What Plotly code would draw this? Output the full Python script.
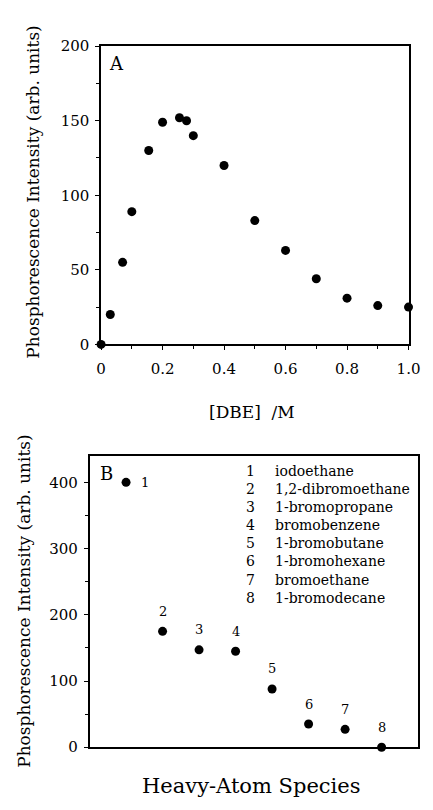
import plotly.graph_objects as go

# Panel A data
dbe_conc = [0.0, 0.03, 0.07, 0.1, 0.155, 0.2, 0.255, 0.278, 0.3, 0.4, 0.5, 0.6, 0.7, 0.8, 0.9, 1.0]
intensity_a = [0, 20, 55, 89, 130, 149, 152, 150, 140, 120, 83, 63, 44, 31, 26, 25]
xticks_a = [0, 0.2, 0.4, 0.6, 0.8, 1.0]
xticklabels_a = ["0", "0.2", "0.4", "0.6", "0.8", "1.0"]
yticks_a = [0, 50, 100, 150, 200]

# Panel B data
species_idx = [1, 2, 3, 4, 5, 6, 7, 8]
species_names = ["iodoethane", "1,2-dibromoethane", "1-bromopropane", "bromobenzene",
                 "1-bromobutane", "1-bromohexane", "bromoethane", "1-bromodecane"]
intensity_b = [400, 175, 147, 145, 88, 35, 27, 0]
yticks_b = [0, 100, 200, 300, 400]

W, H = 433, 810
FONT = "DejaVu Serif"


def px(x):
    return x / W


def py(y):
    return 1 - y / H


fig = go.Figure()

fig.add_trace(go.Scatter(
    x=dbe_conc, y=intensity_a, mode="markers",
    marker=dict(color="black", size=9), cliponaxis=False,
    xaxis="x", yaxis="y", showlegend=False))

fig.add_trace(go.Scatter(
    x=species_idx, y=intensity_b, mode="markers",
    marker=dict(color="black", size=9), cliponaxis=False,
    xaxis="x2", yaxis="y2", showlegend=False))

axis_common = dict(showgrid=False, zeroline=False, showline=True, linecolor="black",
                   linewidth=1.5, mirror=True, ticks="outside", ticklen=4,
                   tickcolor="black", tickfont=dict(family=FONT, size=15, color="black"))

fig.update_layout(
    width=W, height=H, margin=dict(l=0, r=0, t=0, b=0),
    paper_bgcolor="white", plot_bgcolor="white",
    xaxis=dict(domain=[px(100), px(420)], range=[0, 1], anchor="y",
               tickvals=xticks_a, ticktext=xticklabels_a, ticklabelstandoff=6,
               minor=dict(dtick=0.1, tick0=0, ticks="outside", ticklen=3, tickcolor="black"),
               **axis_common),
    yaxis=dict(domain=[py(343), py(38)], range=[0, 200], anchor="x",
               tickvals=yticks_a, ticklabelstandoff=3,
               minor=dict(dtick=25, tick0=0, ticks="outside", ticklen=3, tickcolor="black"),
               **axis_common),
    xaxis2=dict(domain=[px(88), px(430)], range=[0, 9], anchor="y2",
                showticklabels=False, **{**axis_common, "ticks": ""}),
    yaxis2=dict(domain=[py(755), py(457)], range=[0, 440], anchor="x2",
                tickvals=yticks_b, ticklabelstandoff=3,
                minor=dict(dtick=50, tick0=0, ticks="outside", ticklen=3, tickcolor="black"),
                **axis_common),
)


def pann(text, x, y, size, xanchor="center", angle=0):
    return dict(text=text, x=px(x), y=py(y), xref="paper", yref="paper",
                xanchor=xanchor, yanchor="middle", showarrow=False, textangle=angle,
                font=dict(family=FONT, size=size, color="black"))


ann = []
# axis titles
ann.append(pann("Phosphorescence Intensity (arb. units)", 29, 187, 17, angle=-90))
ann.append(pann("Phosphorescence Intensity (arb. units)", 19, 606, 17, angle=-90))
ann.append(pann("[DBE]&nbsp;&nbsp;/M", 257, 412, 17))
ann.append(pann("Heavy-Atom Species", 257, 795, 21))
# panel letters
ann.append(pann("A", 116, 56, 18))
ann.append(pann("B", 106, 475, 18))

# point labels in B
for i, (xi, yi) in enumerate(zip(species_idx, intensity_b)):
    a = dict(text=str(xi), x=xi, y=yi, xref="x2", yref="y2", showarrow=False,
             xanchor="center", yanchor="middle",
             font=dict(family=FONT, size=13, color="black"))
    if i == 0:
        a["xshift"] = 19
    else:
        a["yshift"] = 20
    ann.append(a)

# legend text in B
for i, (num, name) in enumerate(zip(species_idx, species_names)):
    yy = 472 + i * 18.6
    ann.append(pann(str(num), 249, yy, 14, xanchor="left"))
    ann.append(pann(name, 279, yy, 14, xanchor="left"))

fig.update_layout(annotations=ann)
fig.write_html("out.html")
